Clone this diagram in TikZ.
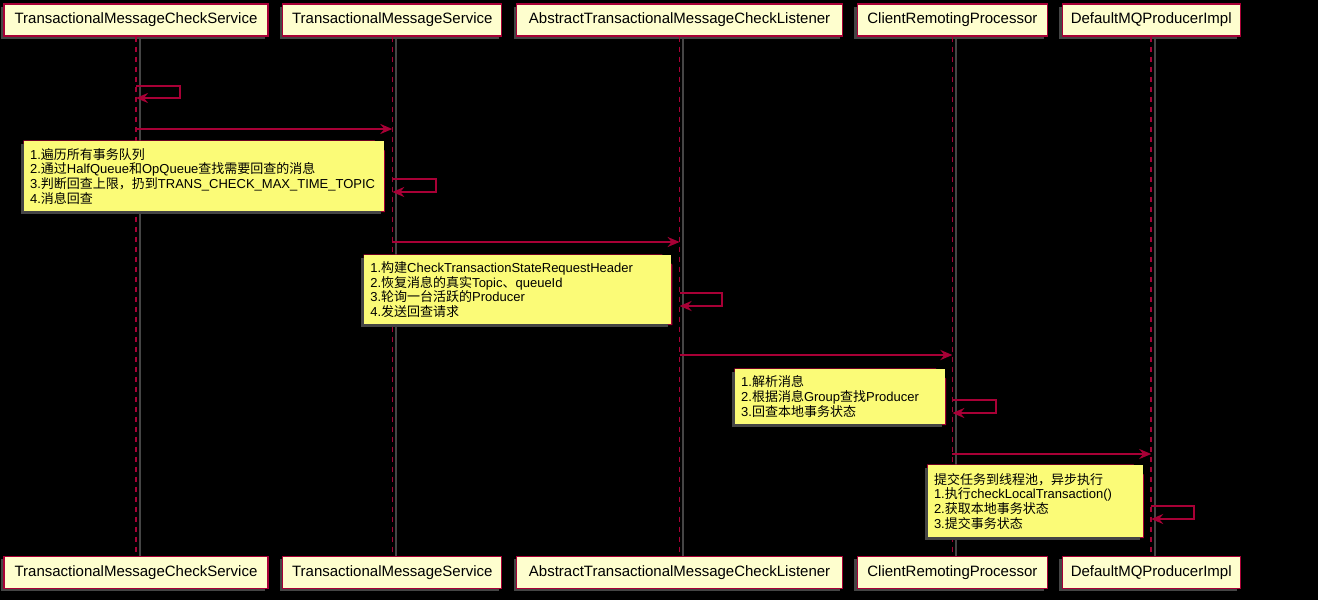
\documentclass[tikz,border=0pt]{standalone}
\usepackage{fontspec}
\setmainfont{Liberation Sans}
\newfontfamily\cjk{Noto Sans CJK SC}
\usetikzlibrary{arrows.meta,positioning,shadows}
\definecolor{umlred}{HTML}{A80036}
\definecolor{boxfill}{HTML}{FEFECE}
\definecolor{notefill}{HTML}{FBFB77}
\definecolor{shade}{HTML}{454545}
\newcommand{\hz}[1]{{\cjk #1}}

\begin{document}
\begin{tikzpicture}[x=1pt, y=-1pt, node distance=13.5pt,
    every node/.style={font=\fontsize{15}{18}\selectfont},
    partbox/.style={draw=umlred, line width=1.3pt, fill=boxfill, minimum height=32pt, inner sep=0pt,
      drop shadow={shadow xshift=-3pt, shadow yshift=-3pt, fill=shade, opacity=1}},
    lifeline/.style={draw=umlred, line width=1.5pt, dash pattern=on 5pt off 5pt,
      preaction={draw=shade, solid, line width=2pt, transform canvas={xshift=3.5pt}}},
    msg/.style={draw=umlred, line width=2pt, -{Stealth[length=12pt,width=10pt,inset=4pt]}},
    note/.style={fill=notefill, inner xsep=6pt, inner ysep=0pt, align=left,
      font=\fontsize{13}{14.7}\selectfont,
      drop shadow={shadow xshift=-3pt, shadow yshift=-3pt, fill=shade, opacity=1},
      append after command={\pgfextra{
        \fill[black] ([xshift=-10pt]\tikzlastnode.north east) -- (\tikzlastnode.north east)
          -- ([yshift=-10pt]\tikzlastnode.north east) -- cycle;
        \draw[umlred, line width=1.3pt] (\tikzlastnode.south west) -- (\tikzlastnode.north west)
          -- ([xshift=-10pt]\tikzlastnode.north east) -- ([yshift=-10pt]\tikzlastnode.north east)
          -- (\tikzlastnode.south east) -- cycle;
        \draw[umlred, line width=1pt] ([xshift=-10pt]\tikzlastnode.north east)
          |- ([yshift=-10pt]\tikzlastnode.north east);}}}]

  \fill[black] (0,0) rectangle (1318,600);
  \useasboundingbox (0,0) rectangle (1318,600);

  % participants, top row
  \node[partbox, minimum width=264pt] (tmcs) at (136,20) {TransactionalMessageCheckService};
  \node[partbox, minimum width=219pt, right=of tmcs] (tms) {TransactionalMessageService};
  \node[partbox, minimum width=326pt, right=of tms] (atmcl) {AbstractTransactionalMessageCheckListener};
  \node[partbox, minimum width=190pt, right=of atmcl] (crp) {ClientRemotingProcessor};
  \node[partbox, minimum width=178pt, right=of crp] (dmpi) {DefaultMQProducerImpl};

  % participants, bottom row
  \node[partbox, minimum width=264pt, below=519pt of tmcs] (tmcsB) {TransactionalMessageCheckService};
  \node[partbox, minimum width=219pt, below=519pt of tms] (tmsB) {TransactionalMessageService};
  \node[partbox, minimum width=326pt, below=519pt of atmcl] (atmclB) {AbstractTransactionalMessageCheckListener};
  \node[partbox, minimum width=190pt, below=519pt of crp] (crpB) {ClientRemotingProcessor};
  \node[partbox, minimum width=178pt, below=519pt of dmpi] (dmpiB) {DefaultMQProducerImpl};

  % lifelines
  \draw[lifeline] (tmcs) -- (tmcsB);
  \draw[lifeline] (tms) -- (tmsB);
  \draw[lifeline] (atmcl) -- (atmclB);
  \draw[lifeline] (crp) -- (crpB);
  \draw[lifeline] (dmpi) -- (dmpiB);

  % message end points
  \coordinate (s1a) at (tmcs |- 0,86);   \coordinate (s1b) at (tmcs |- 0,98);
  \coordinate (m1a) at (tmcs |- 0,129);  \coordinate (m1b) at (tms |- 0,129);
  \coordinate (s2a) at (tms |- 0,179);   \coordinate (s2b) at (tms |- 0,192);
  \coordinate (m2a) at (tms |- 0,242);   \coordinate (m2b) at (atmcl |- 0,242);
  \coordinate (s3a) at (atmcl |- 0,293); \coordinate (s3b) at (atmcl |- 0,306);
  \coordinate (m3a) at (atmcl |- 0,355); \coordinate (m3b) at (crp |- 0,355);
  \coordinate (s4a) at (crp |- 0,400);   \coordinate (s4b) at (crp |- 0,413);
  \coordinate (m4a) at (crp |- 0,454);   \coordinate (m4b) at (dmpi |- 0,454);
  \coordinate (s5a) at (dmpi |- 0,506);  \coordinate (s5b) at (dmpi |- 0,519);

  % messages
  \draw[msg] (s1a) -- ++(44,0) |- (s1b);
  \draw[msg] (m1a) -- (m1b);
  \draw[msg] (s2a) -- ++(44,0) |- (s2b);
  \draw[msg] (m2a) -- (m2b);
  \draw[msg] (s3a) -- ++(42,0) |- (s3b);
  \draw[msg] (m3a) -- (m3b);
  \draw[msg] (s4a) -- ++(44,0) |- (s4b);
  \draw[msg] (m4a) -- (m4b);
  \draw[msg] (s5a) -- ++(43,0) |- (s5b);

  % notes
  \node[note, text width=348pt, minimum height=70pt, below left=12pt and 8pt of m1b] (n1) {%
    1.\hz{遍历所有事务队列}\\
    2.\hz{通过}HalfQueue\hz{和}OpQueue\hz{查找需要回查的消息}\\
    3.\hz{判断回查上限，扔到}TRANS\_CHECK\_MAX\_TIME\_TOPIC\\
    4.\hz{消息回查}};
  \node[note, text width=295pt, minimum height=69pt, below left=13pt and 8pt of m2b] (n2) {%
    1.\hz{构建}CheckTransactionStateRequestHeader\\
    2.\hz{恢复消息的真实}Topic\hz{、}queueId\\
    3.\hz{轮询一台活跃的}Producer\\
    4.\hz{发送回查请求}};
  \node[note, text width=198pt, minimum height=55pt, below left=14pt and 7pt of m3b] (n3) {%
    1.\hz{解析消息}\\
    2.\hz{根据消息}Group\hz{查找}Producer\\
    3.\hz{回查本地事务状态}};
  \node[note, text width=203pt, minimum height=72pt, below left=11pt and 8pt of m4b] (n4) {%
    \hz{提交任务到线程池，异步执行}\\
    1.\hz{执行}checkLocalTransaction()\\
    2.\hz{获取本地事务状态}\\
    3.\hz{提交事务状态}};
\end{tikzpicture}
\end{document}
